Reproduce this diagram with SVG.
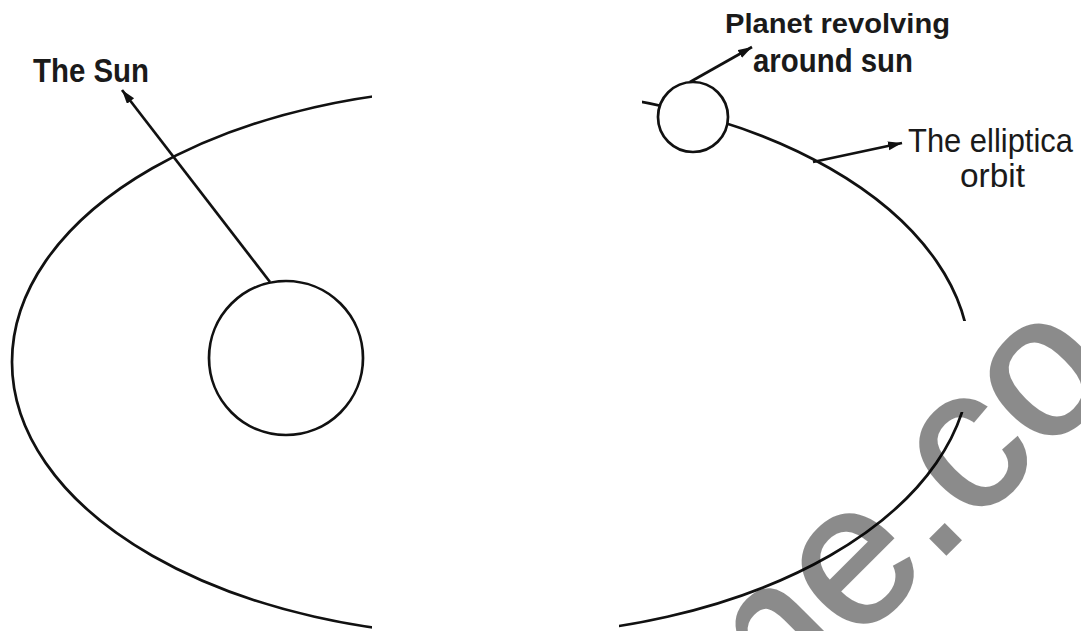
<svg xmlns="http://www.w3.org/2000/svg" width="1081" height="631" viewBox="0 0 1081 631">
<defs>
<style>
.ln{fill:none;stroke:#111;stroke-width:2.7}
.body{fill:#fff;stroke:#111;stroke-width:2.7}
.gap{fill:#fff;stroke:none}
.lbl{font-family:"Liberation Sans",Arial,sans-serif;fill:#1a1a1a}
.b{font-weight:700}
.wm{font-family:"Liberation Sans",Arial,sans-serif;font-size:200px;fill:#000;stroke:#000;stroke-width:3}
</style>
<marker id="ah" markerUnits="userSpaceOnUse" markerWidth="16" markerHeight="10" refX="14" refY="4.5" orient="auto">
<path d="M0,0 L14,4.5 L0,9 Z" fill="#111"/>
</marker>
</defs>
<rect width="1081" height="631" fill="#fff"/>
<g id="orbit">
<ellipse class="ln" cx="491" cy="362" rx="479" ry="274"/>
</g>
<g id="gaps">
<rect class="gap" x="372" y="0" width="247" height="631"/>
<rect class="gap" x="372" y="0" width="270" height="140"/>
<rect class="gap" x="900" y="321" width="181" height="91"/>
</g>
<g id="connectors">
<line class="ln" x1="270" y1="282" x2="122" y2="90" marker-end="url(#ah)"/>
<line class="ln" x1="690" y1="82" x2="752" y2="47" marker-end="url(#ah)"/>
<line class="ln" x1="813" y1="162" x2="902" y2="143" marker-end="url(#ah)"/>
</g>
<g id="sun">
<circle class="body" cx="286" cy="358" r="77"/>
</g>
<g id="planet">
<circle class="body" cx="693" cy="117" r="35"/>
</g>
<g id="label-sun">
<text class="lbl b" x="33" y="82" font-size="33" textLength="116" lengthAdjust="spacingAndGlyphs">The Sun</text>
</g>
<g id="label-planet">
<text class="lbl b" x="725" y="33" font-size="28" textLength="225" lengthAdjust="spacingAndGlyphs">Planet revolving</text>
<text class="lbl b" x="753" y="72" font-size="34" textLength="160" lengthAdjust="spacingAndGlyphs">around sun</text>
</g>
<g id="label-orbit">
<text class="lbl" x="908" y="152" font-size="33" textLength="165" lengthAdjust="spacingAndGlyphs">The elliptica</text>
<text class="lbl" x="960" y="187" font-size="33" textLength="65" lengthAdjust="spacingAndGlyphs">orbit</text>
</g>
<g id="watermark" opacity="0.45">
<text class="wm" transform="translate(737,763) rotate(-45)" x="0" y="0">me.co</text>
</g>
</svg>
